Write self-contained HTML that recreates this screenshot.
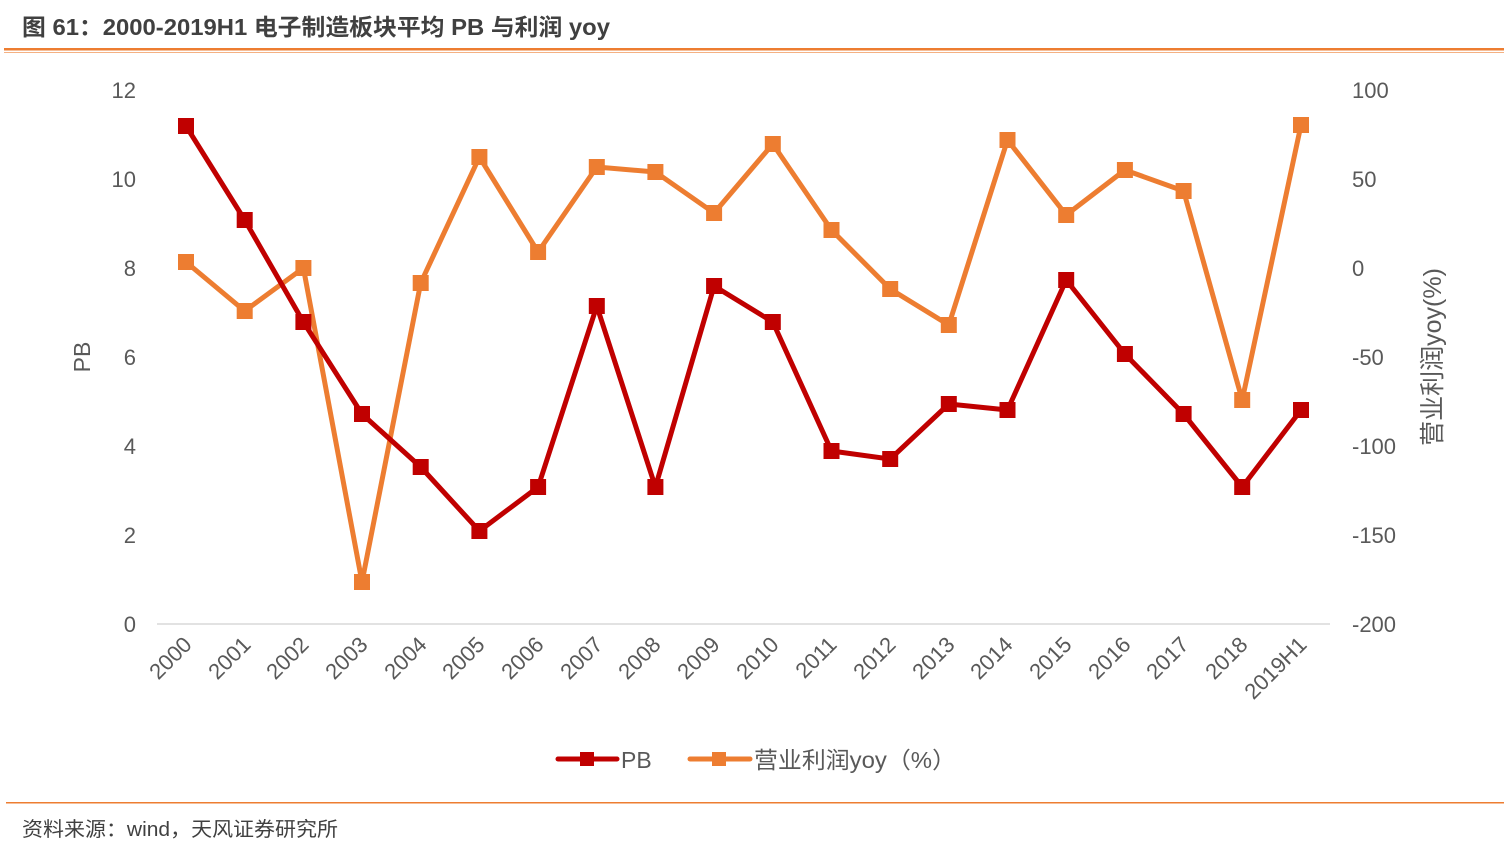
<!DOCTYPE html>
<html><head><meta charset="utf-8"><style>
body{margin:0;background:#fff;}
svg{display:block;font-family:"Liberation Sans","Noto Sans CJK SC",sans-serif;}
</style></head><body>
<svg width="1510" height="853" viewBox="0 0 1510 853">
<text x="22" y="35" font-size="23" fill="#404040" font-weight="bold" textLength="588" lengthAdjust="spacingAndGlyphs">图 61：2000-2019H1 电子制造板块平均 PB 与利润 yoy</text>
<rect x="4" y="48" width="1500" height="2.5" fill="#ED7D31"/>
<rect x="4" y="52" width="1500" height="1" fill="#F4B183"/>
<line x1="157" y1="624" x2="1330" y2="624" stroke="#d9d9d9" stroke-width="1.5"/>
<g font-size="22" fill="#595959" text-anchor="end">
<text x="136" y="98">12</text><text x="136" y="187">10</text><text x="136" y="276">8</text><text x="136" y="365">6</text><text x="136" y="454">4</text><text x="136" y="543">2</text><text x="136" y="632">0</text>
</g>
<g font-size="22" fill="#595959" text-anchor="start">
<text x="1352" y="98">100</text><text x="1352" y="187">50</text><text x="1352" y="276">0</text><text x="1352" y="365">-50</text><text x="1352" y="454">-100</text><text x="1352" y="543">-150</text><text x="1352" y="632">-200</text>
</g>
<text transform="translate(90,357) rotate(-90)" font-size="23" fill="#595959" text-anchor="middle">PB</text>
<text transform="translate(1441,357) rotate(-90)" font-size="25" fill="#595959" text-anchor="middle">营业利润yoy(%)</text>
<g font-size="22" fill="#595959" text-anchor="end">
<text transform="translate(193,646) rotate(-45)">2000</text>
<text transform="translate(252,646) rotate(-45)">2001</text>
<text transform="translate(310,646) rotate(-45)">2002</text>
<text transform="translate(369,646) rotate(-45)">2003</text>
<text transform="translate(428,646) rotate(-45)">2004</text>
<text transform="translate(486,646) rotate(-45)">2005</text>
<text transform="translate(545,646) rotate(-45)">2006</text>
<text transform="translate(604,646) rotate(-45)">2007</text>
<text transform="translate(662,646) rotate(-45)">2008</text>
<text transform="translate(721,646) rotate(-45)">2009</text>
<text transform="translate(780,646) rotate(-45)">2010</text>
<text transform="translate(838,646) rotate(-45)">2011</text>
<text transform="translate(897,646) rotate(-45)">2012</text>
<text transform="translate(956,646) rotate(-45)">2013</text>
<text transform="translate(1014,646) rotate(-45)">2014</text>
<text transform="translate(1073,646) rotate(-45)">2015</text>
<text transform="translate(1132,646) rotate(-45)">2016</text>
<text transform="translate(1190,646) rotate(-45)">2017</text>
<text transform="translate(1249,646) rotate(-45)">2018</text>
<text transform="translate(1308,646) rotate(-45)">2019H1</text>
</g>
<polyline fill="none" stroke="#ED7D31" stroke-width="5" stroke-linejoin="round" points="186,262 244.7,311 303.4,268 362,582 420.7,283 479.4,157 538.1,252 596.8,167 655.4,172 714.1,213 772.8,144 831.5,230 890.2,289 948.8,325 1007.5,140 1066.2,215 1124.9,170 1183.6,191 1242.2,400 1301,125"/>
<g fill="#ED7D31">
<rect x="178" y="254" width="16" height="16"/><rect x="236.7" y="303" width="16" height="16"/><rect x="295.4" y="260" width="16" height="16"/><rect x="354" y="574" width="16" height="16"/><rect x="412.7" y="275" width="16" height="16"/><rect x="471.4" y="149" width="16" height="16"/><rect x="530.1" y="244" width="16" height="16"/><rect x="588.8" y="159" width="16" height="16"/><rect x="647.4" y="164" width="16" height="16"/><rect x="706.1" y="205" width="16" height="16"/><rect x="764.8" y="136" width="16" height="16"/><rect x="823.5" y="222" width="16" height="16"/><rect x="882.2" y="281" width="16" height="16"/><rect x="940.8" y="317" width="16" height="16"/><rect x="999.5" y="132" width="16" height="16"/><rect x="1058.2" y="207" width="16" height="16"/><rect x="1116.9" y="162" width="16" height="16"/><rect x="1175.6" y="183" width="16" height="16"/><rect x="1234.2" y="392" width="16" height="16"/><rect x="1293" y="117" width="16" height="16"/>
</g>
<polyline fill="none" stroke="#C00000" stroke-width="5" stroke-linejoin="round" points="186,126 244.7,220 303.4,322 362,414 420.7,467 479.4,531 538.1,487 596.8,306 655.4,487 714.1,286 772.8,322 831.5,451 890.2,459 948.8,404 1007.5,410 1066.2,280 1124.9,354 1183.6,414 1242.2,487 1301,410"/>
<g fill="#C00000">
<rect x="178" y="118" width="16" height="16"/><rect x="236.7" y="212" width="16" height="16"/><rect x="295.4" y="314" width="16" height="16"/><rect x="354" y="406" width="16" height="16"/><rect x="412.7" y="459" width="16" height="16"/><rect x="471.4" y="523" width="16" height="16"/><rect x="530.1" y="479" width="16" height="16"/><rect x="588.8" y="298" width="16" height="16"/><rect x="647.4" y="479" width="16" height="16"/><rect x="706.1" y="278" width="16" height="16"/><rect x="764.8" y="314" width="16" height="16"/><rect x="823.5" y="443" width="16" height="16"/><rect x="882.2" y="451" width="16" height="16"/><rect x="940.8" y="396" width="16" height="16"/><rect x="999.5" y="402" width="16" height="16"/><rect x="1058.2" y="272" width="16" height="16"/><rect x="1116.9" y="346" width="16" height="16"/><rect x="1175.6" y="406" width="16" height="16"/><rect x="1234.2" y="479" width="16" height="16"/><rect x="1293" y="402" width="16" height="16"/>
</g>
<line x1="558" y1="759" x2="617" y2="759" stroke="#C00000" stroke-width="5" stroke-linecap="round"/>
<rect x="580" y="752" width="14" height="14" fill="#C00000"/>
<text x="621" y="768" font-size="23" fill="#595959">PB</text>
<line x1="690" y1="759" x2="750" y2="759" stroke="#ED7D31" stroke-width="5" stroke-linecap="round"/>
<rect x="712" y="752" width="14" height="14" fill="#ED7D31"/>
<text x="754" y="768" font-size="23" fill="#595959" textLength="202" lengthAdjust="spacingAndGlyphs">营业利润yoy（%）</text>
<rect x="6" y="802" width="1498" height="1.5" fill="#ED7D31"/>
<text x="22" y="836" font-size="20" fill="#404040" textLength="316" lengthAdjust="spacingAndGlyphs">资料来源：wind，天风证券研究所</text>
</svg>
</body></html>
